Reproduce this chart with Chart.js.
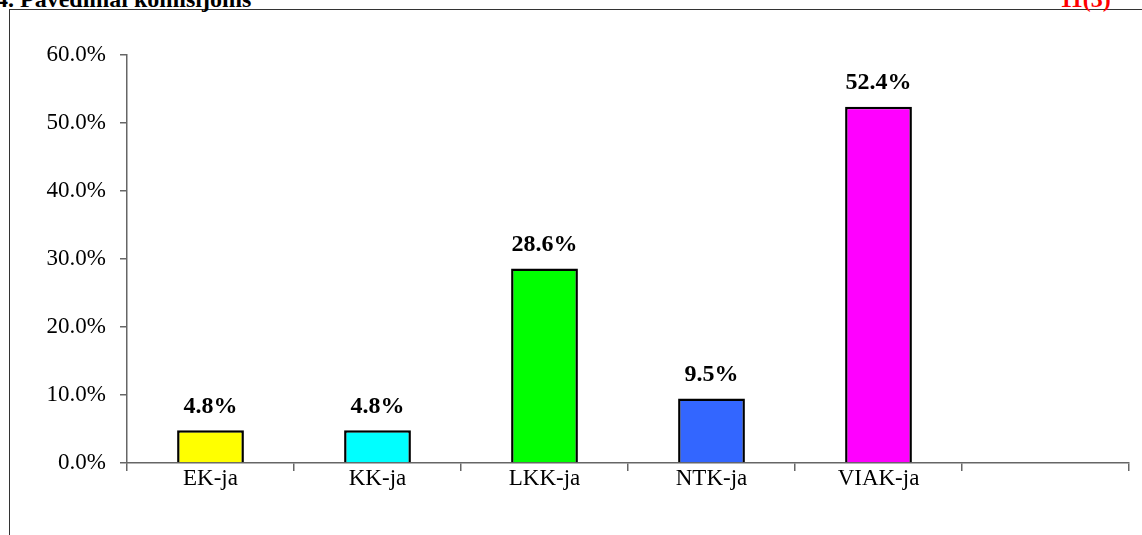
<!DOCTYPE html>
<html>
<head>
  <title>Pavedimai komisijoms</title>
  <script src="https://cdn.jsdelivr.net/npm/chart.js"></script>
  <style>
    html, body { margin: 0; padding: 0; background: #fff; overflow: hidden; }
    #wrap { position: relative; width: 1142px; height: 535px; }
    #frame { position: absolute; left: 9px; top: 9px; right: 0; bottom: -2px;
             border-left: 1px solid #333; border-top: 1px solid #333; }
    .head { position: absolute; top: -14px; font: bold 24px "Liberation Serif", "Times New Roman", serif; white-space: nowrap; }
    #title { left: -4px; color: #000; }
    #page { left: 1060px; color: #ff0000; }
    canvas { position: absolute; left: 0; top: 0; }
  </style>
</head>
<body>
  <div id="wrap">
    <div id="frame"></div>
    <div class="head" id="title">4. Pavedimai komisijoms</div>
    <div class="head" id="page">11(3)</div>
    <canvas id="chart" width="1142" height="535"></canvas>
  </div>

  <script>
    const categories = ['EK-ja', 'KK-ja', 'LKK-ja', 'NTK-ja', 'VIAK-ja', ''];
    const shares = [4.8, 4.8, 28.6, 9.5, 52.4, null];
    const barColors = ['#ffff00', '#00ffff', '#00ff00', '#3366ff', '#ff00ff', '#ffffff'];
    const yTicks = [0, 10, 20, 30, 40, 50, 60];

    const serif = '"Liberation Serif", "Times New Roman", serif';

    // value labels above each bar
    const valueLabels = {
      id: 'valueLabels',
      afterDatasetsDraw(chart) {
        const ctx = chart.ctx;
        const meta = chart.getDatasetMeta(0);
        ctx.save();
        ctx.font = 'bold 24px ' + serif;
        ctx.fillStyle = '#000';
        ctx.textAlign = 'center';
        ctx.textBaseline = 'bottom';
        meta.data.forEach(function(bar, i) {
          if (shares[i] == null) return;
          ctx.fillText(shares[i].toFixed(1) + '%', bar.x, bar.y - 12);
        });
        ctx.restore();
      }
    };

    new Chart(document.getElementById('chart'), {
      type: 'bar',
      data: {
        labels: categories,
        datasets: [{
          data: shares,
          backgroundColor: barColors,
          borderColor: '#000',
          borderWidth: 2.5,
          categoryPercentage: 0.8,
          barPercentage: 0.5
        }]
      },
      options: {
        responsive: false,
        animation: false,
        layout: { padding: { top: 55, right: 13, left: 0, bottom: 0 } },
        plugins: { legend: { display: false }, tooltip: { enabled: false } },
        scales: {
          x: {
            offset: true,
            grid: { offset: true, drawOnChartArea: false, color: '#666', tickLength: 8, lineWidth: 1.5 },
            border: { color: '#666', width: 1.5 },
            ticks: { color: '#000', font: { family: serif, size: 23 }, padding: -6, maxRotation: 0 },
            afterFit(scale) { scale.height = 72; }
          },
          y: {
            min: 0, max: 60,
            afterBuildTicks(scale) { scale.ticks = yTicks.map(v => ({ value: v })); },
            grid: { drawOnChartArea: false, color: '#666', tickLength: 7, lineWidth: 1.5 },
            border: { color: '#666', width: 1.5 },
            ticks: { color: '#000', font: { family: serif, size: 23 }, padding: 14,
                     callback: v => v.toFixed(1) + '%' },
            afterFit(scale) { scale.width = 127; }
          }
        }
      },
      plugins: [valueLabels]
    });
  </script>
</body>
</html>
